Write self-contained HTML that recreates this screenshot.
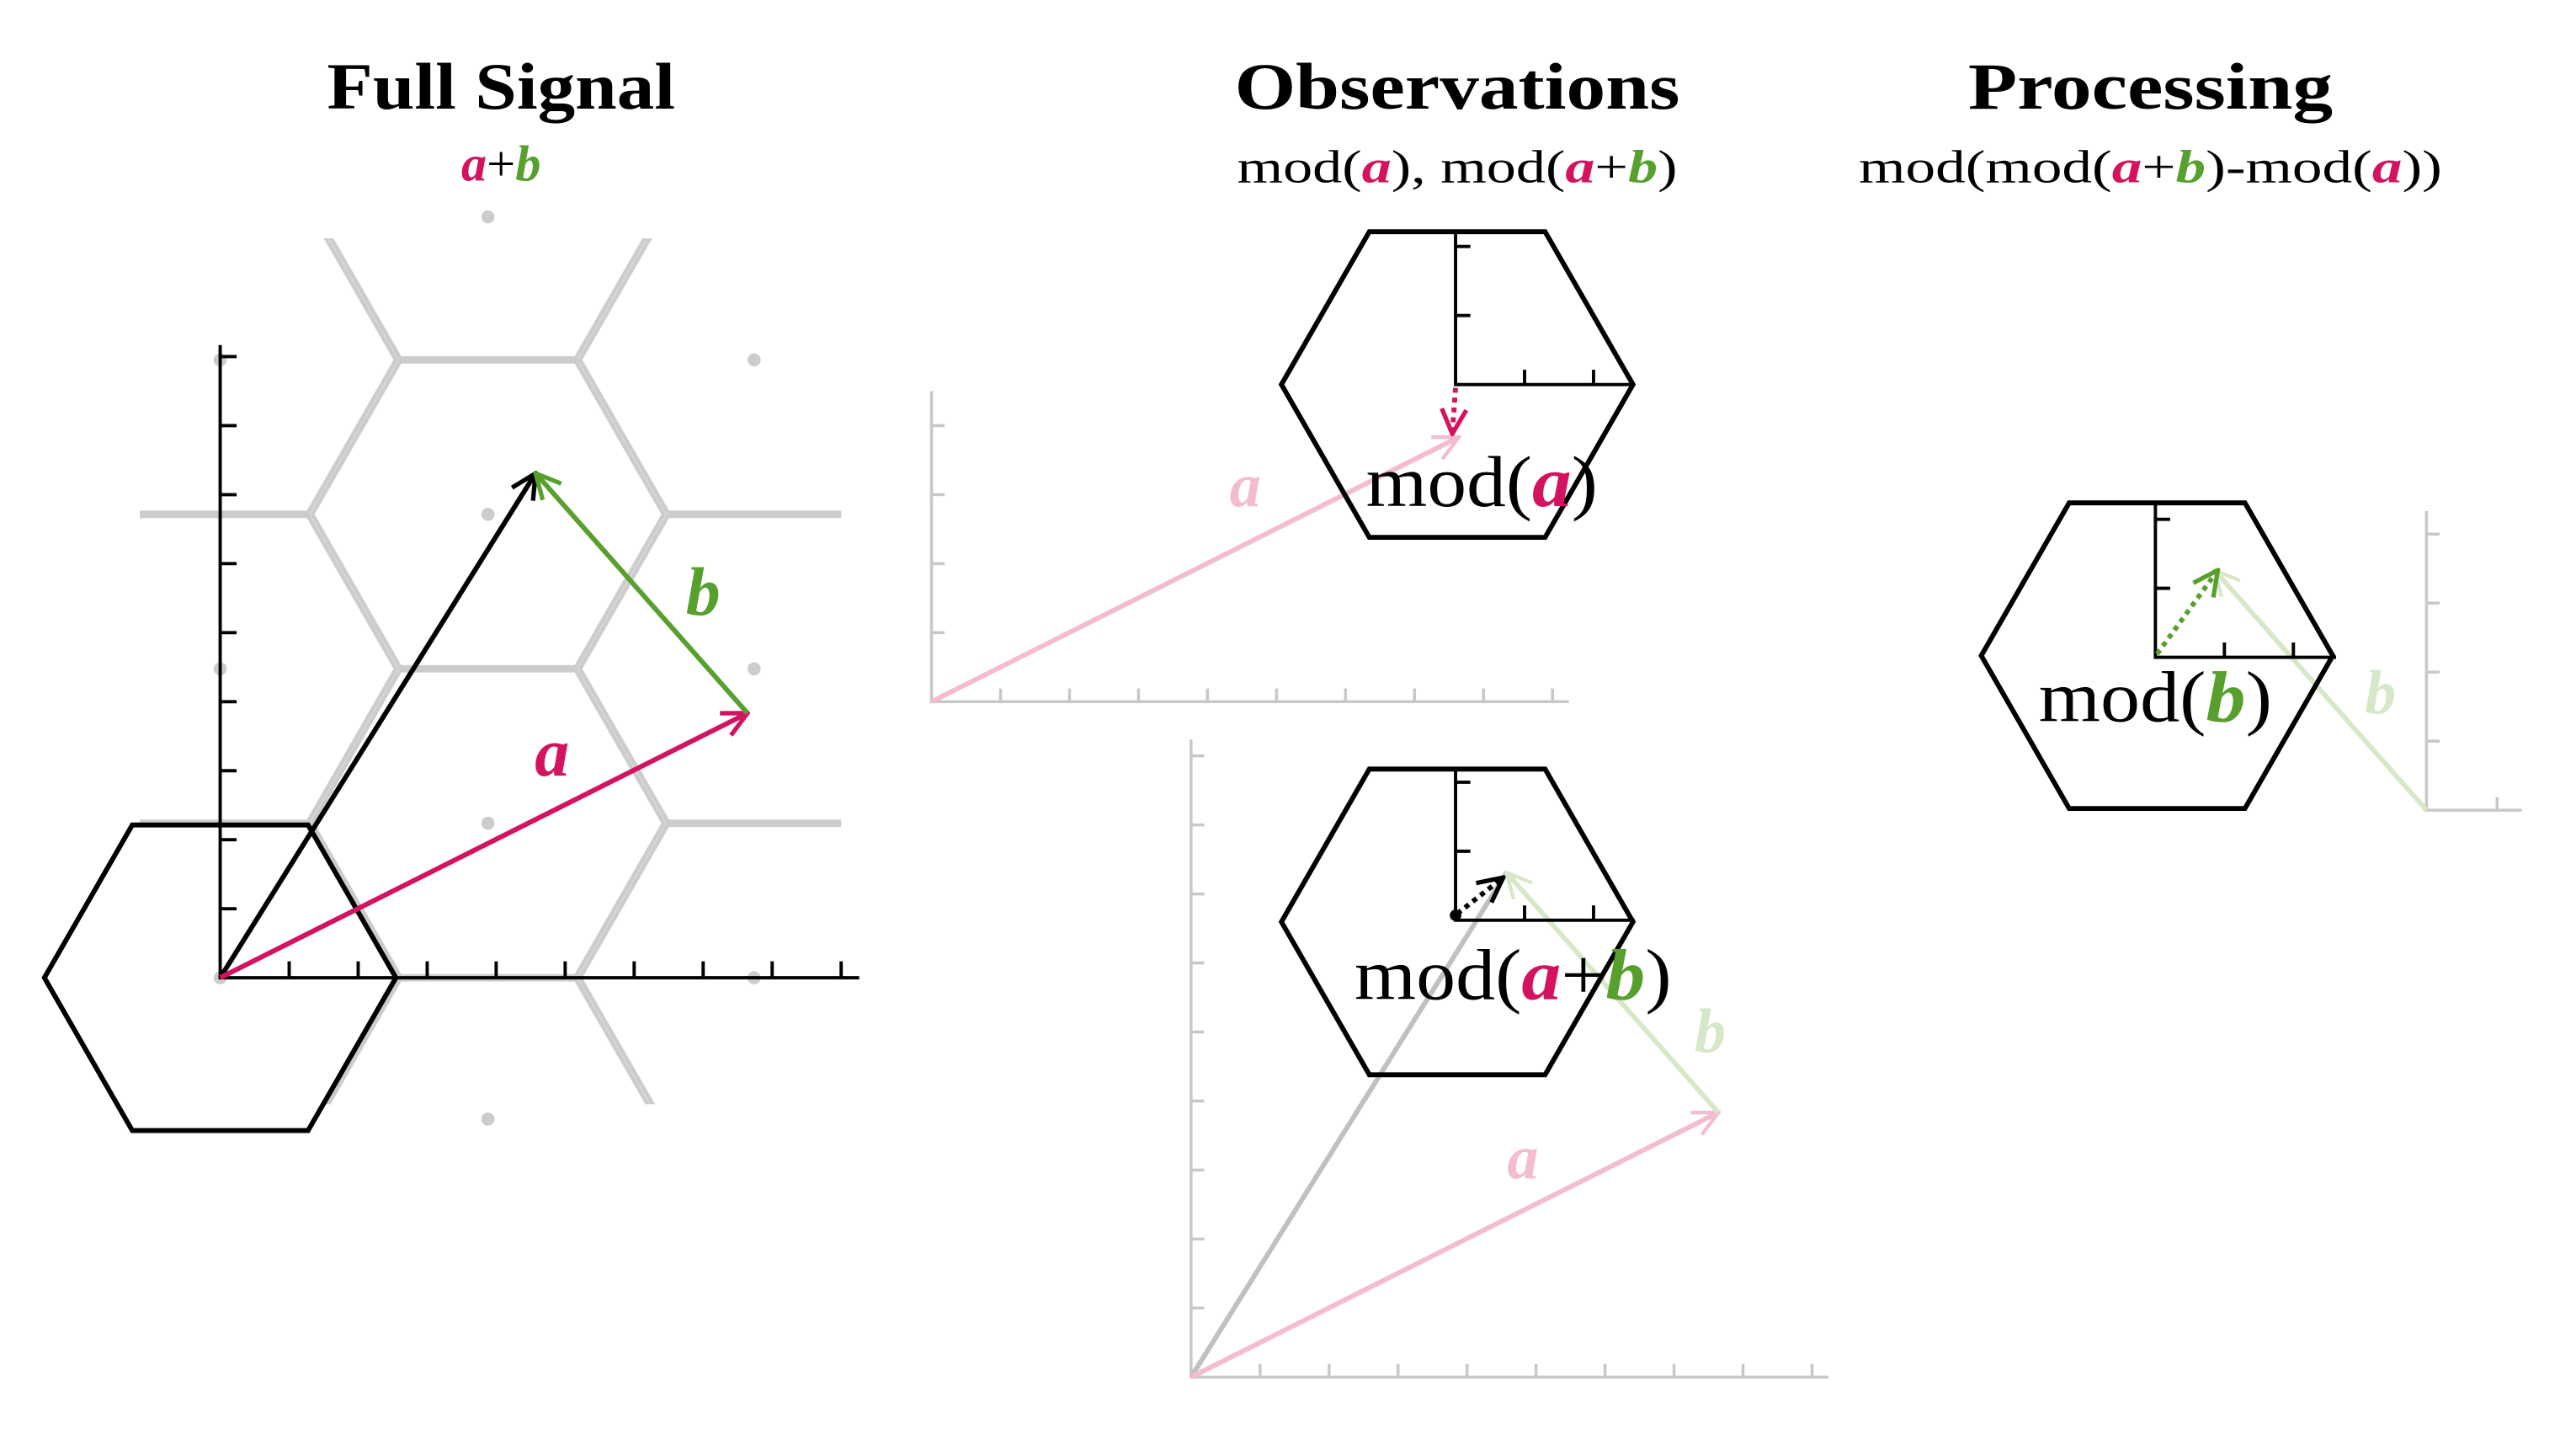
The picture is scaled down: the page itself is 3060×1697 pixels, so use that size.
<!DOCTYPE html>
<html><head><meta charset="utf-8"><style>html,body{margin:0;padding:0;background:#fff}svg{display:block}</style></head>
<body>
<svg width="3060" height="1697" viewBox="0 0 1568 869.6" xmlns="http://www.w3.org/2000/svg" font-family="'Liberation Serif', serif">
<defs>
<clipPath id="c"><rect x="85" y="145" width="427" height="527"/></clipPath>
<marker id="mk" viewBox="0 0 12 12" refX="11" refY="6" markerWidth="18" markerHeight="18" markerUnits="userSpaceOnUse" orient="auto"><path d="M1,1 L11,6 L1,11" fill="none" stroke="#000" stroke-width="1.8"/></marker>
<marker id="mm" viewBox="0 0 12 12" refX="11" refY="6" markerWidth="18" markerHeight="18" markerUnits="userSpaceOnUse" orient="auto"><path d="M1,1 L11,6 L1,11" fill="none" stroke="#d3135f" stroke-width="1.8"/></marker>
<marker id="mg" viewBox="0 0 12 12" refX="11" refY="6" markerWidth="18" markerHeight="18" markerUnits="userSpaceOnUse" orient="auto"><path d="M1,1 L11,6 L1,11" fill="none" stroke="#57a02d" stroke-width="1.8"/></marker>
<marker id="mp" viewBox="0 0 12 12" refX="11" refY="6" markerWidth="18" markerHeight="18" markerUnits="userSpaceOnUse" orient="auto"><path d="M1,1 L11,6 L1,11" fill="none" stroke="#f4bcd0" stroke-width="1.5"/></marker>
<marker id="ml" viewBox="0 0 12 12" refX="11" refY="6" markerWidth="18" markerHeight="18" markerUnits="userSpaceOnUse" orient="auto"><path d="M1,1 L11,6 L1,11" fill="none" stroke="#d6e8c8" stroke-width="1.5"/></marker>
<path id="hx" d="M-107,0 L-53.5,-93 L53.5,-93 L107,0 L53.5,93 L-53.5,93 Z"/>
</defs>

<!-- Titles -->
<g font-weight="bold" font-size="40" text-anchor="middle">
<text x="305" y="66" textLength="212" lengthAdjust="spacingAndGlyphs">Full Signal</text>
<text x="887" y="66" textLength="271" lengthAdjust="spacingAndGlyphs">Observations</text>
<text x="1309" y="66" textLength="222" lengthAdjust="spacingAndGlyphs">Processing</text>
</g>
<text x="305" y="110" font-size="31" text-anchor="middle"><tspan fill="#d3135f" font-weight="bold" font-style="italic">a</tspan>+<tspan fill="#57a02d" font-weight="bold" font-style="italic">b</tspan></text>
<text x="887" y="111" font-size="28" text-anchor="middle" textLength="268" lengthAdjust="spacingAndGlyphs">mod(<tspan fill="#d3135f" font-weight="bold" font-style="italic">a</tspan>), mod(<tspan fill="#d3135f" font-weight="bold" font-style="italic">a</tspan>+<tspan fill="#57a02d" font-weight="bold" font-style="italic">b</tspan>)</text>
<text x="1309" y="111" font-size="28" text-anchor="middle" textLength="355" lengthAdjust="spacingAndGlyphs">mod(mod(<tspan fill="#d3135f" font-weight="bold" font-style="italic">a</tspan>+<tspan fill="#57a02d" font-weight="bold" font-style="italic">b</tspan>)-mod(<tspan fill="#d3135f" font-weight="bold" font-style="italic">a</tspan>))</text>

<!-- Full signal lattice -->
<g clip-path="url(#c)" fill="none" stroke="#cccccc" stroke-width="2.5">
<use href="#hx" x="297" y="125"/><use href="#hx" x="297" y="313"/><use href="#hx" x="297" y="501"/><use href="#hx" x="297" y="689"/>
<use href="#hx" x="134" y="407"/><use href="#hx" x="134" y="219"/><use href="#hx" x="134" y="783"/>
<use href="#hx" x="460" y="219"/><use href="#hx" x="460" y="407"/><use href="#hx" x="460" y="595"/><use href="#hx" x="460" y="31"/><use href="#hx" x="460" y="783"/>
</g>
<g fill="#cccccc">
<circle cx="297" cy="132" r="4"/><circle cx="459" cy="219" r="4"/><circle cx="297" cy="313" r="4"/><circle cx="134" cy="407" r="4"/><circle cx="459" cy="407" r="4"/><circle cx="297" cy="501" r="4"/><circle cx="459" cy="595" r="4"/><circle cx="297" cy="681" r="4"/><circle cx="134" cy="595" r="4"/><circle cx="134" cy="219" r="4"/>
</g>
<use href="#hx" x="134" y="595" fill="none" stroke="#000" stroke-width="3"/>
<g stroke="#000" stroke-width="2" fill="none">
<path d="M134,210 V595 H523"/>
<path d="M176,595v-10M218,595v-10M260,595v-10M302,595v-10M344,595v-10M386,595v-10M428,595v-10M470,595v-10M512,595v-10"/>
<path d="M134,553h10M134,511h10M134,469h10M134,427h10M134,385h10M134,343h10M134,301h10M134,259h10M134,217h10"/>
</g>
<line x1="134" y1="595" x2="326" y2="288" stroke="#000" stroke-width="3" marker-end="url(#mk)"/>
<line x1="134" y1="595" x2="455" y2="434" stroke="#d3135f" stroke-width="3" marker-end="url(#mm)"/>
<line x1="455" y1="434" x2="326" y2="288" stroke="#57a02d" stroke-width="3" marker-end="url(#mg)"/>
<text x="336" y="472" font-size="42" font-weight="bold" font-style="italic" fill="#d3135f" text-anchor="middle">a</text>
<text x="428" y="374" font-size="42" font-weight="bold" font-style="italic" fill="#57a02d" text-anchor="middle">b</text>

<!-- Observation 1 -->
<g stroke="#c8c8c8" stroke-width="1.8" fill="none">
<path d="M567,238 V427 H955"/>
<path d="M609,427v-8M651,427v-8M693,427v-8M735,427v-8M777,427v-8M819,427v-8M861,427v-8M903,427v-8M945,427v-8"/>
<path d="M567,385h8M567,343h8M567,301h8M567,259h8"/>
</g>
<line x1="567" y1="427" x2="888" y2="266" stroke="#f4bcd0" stroke-width="3" marker-end="url(#mp)"/>
<text x="758" y="308" font-size="38" font-weight="bold" font-style="italic" fill="#f4bcd0" text-anchor="middle">a</text>
<use href="#hx" x="887" y="234" fill="none" stroke="#000" stroke-width="3"/>
<g stroke="#000" stroke-width="2" fill="none">
<path d="M886,140 V234 H995"/>
<path d="M928,234v-9M970,234v-9M886,192h9M886,150h9"/>
</g>
<line x1="886" y1="236" x2="884" y2="264" stroke="#d3135f" stroke-width="3" stroke-dasharray="3,3" marker-end="url(#mm)"/>
<text x="902" y="308" font-size="44" text-anchor="middle" textLength="141" lengthAdjust="spacingAndGlyphs">mod(<tspan fill="#d3135f" font-weight="bold" font-style="italic">a</tspan>)</text>

<!-- Observation 2 -->
<g stroke="#c8c8c8" stroke-width="1.8" fill="none">
<path d="M725,450 V838 H1113"/>
<path d="M767,838v-8M809,838v-8M851,838v-8M893,838v-8M935,838v-8M977,838v-8M1019,838v-8M1061,838v-8M1103,838v-8"/>
<path d="M725,796h8M725,754h8M725,712h8M725,670h8M725,628h8M725,586h8M725,544h8M725,502h8M725,460h8"/>
</g>
<line x1="725" y1="838" x2="917" y2="531" stroke="#c0c0c0" stroke-width="3"/>
<line x1="725" y1="838" x2="1046" y2="677" stroke="#f4bcd0" stroke-width="3" marker-end="url(#mp)"/>
<line x1="1046" y1="677" x2="917" y2="531" stroke="#d6e8c8" stroke-width="3" marker-end="url(#ml)"/>
<text x="927" y="717" font-size="38" font-weight="bold" font-style="italic" fill="#f4bcd0" text-anchor="middle">a</text>
<text x="1041" y="640" font-size="38" font-weight="bold" font-style="italic" fill="#d6e8c8" text-anchor="middle">b</text>
<use href="#hx" x="887" y="561" fill="none" stroke="#000" stroke-width="3"/>
<g stroke="#000" stroke-width="2" fill="none">
<path d="M886,467 V560 H995"/>
<path d="M928,560v-9M970,560v-9M886,518h9M886,476h9"/>
</g>
<circle cx="886" cy="557" r="3.5" fill="#000"/>
<line x1="887" y1="556" x2="915" y2="534" stroke="#000" stroke-width="3" stroke-dasharray="3,3" marker-end="url(#mk)"/>
<text x="921" y="608" font-size="44" text-anchor="middle" textLength="193" lengthAdjust="spacingAndGlyphs">mod(<tspan fill="#d3135f" font-weight="bold" font-style="italic">a</tspan>+<tspan fill="#57a02d" font-weight="bold" font-style="italic">b</tspan>)</text>

<!-- Processing -->
<g stroke="#c8c8c8" stroke-width="1.8" fill="none">
<path d="M1477,311 V493 H1535"/>
<path d="M1520,493v-8M1477,451h8M1477,409h8M1477,367h8M1477,325h8"/>
</g>
<line x1="1477" y1="493" x2="1348" y2="347" stroke="#d6e8c8" stroke-width="3" marker-end="url(#ml)"/>
<text x="1449" y="434" font-size="38" font-weight="bold" font-style="italic" fill="#d6e8c8" text-anchor="middle">b</text>
<use href="#hx" x="1313" y="399" fill="none" stroke="#000" stroke-width="3"/>
<g stroke="#000" stroke-width="2" fill="none">
<path d="M1312,306 V400 H1422"/>
<path d="M1354,400v-9M1396,400v-9M1312,358h9M1312,316h9"/>
</g>
<line x1="1313" y1="398" x2="1350" y2="347" stroke="#57a02d" stroke-width="3" stroke-dasharray="3,3" marker-end="url(#mg)"/>
<text x="1312" y="439" font-size="44" text-anchor="middle" textLength="142" lengthAdjust="spacingAndGlyphs">mod(<tspan fill="#57a02d" font-weight="bold" font-style="italic">b</tspan>)</text>
</svg>
</body></html>
